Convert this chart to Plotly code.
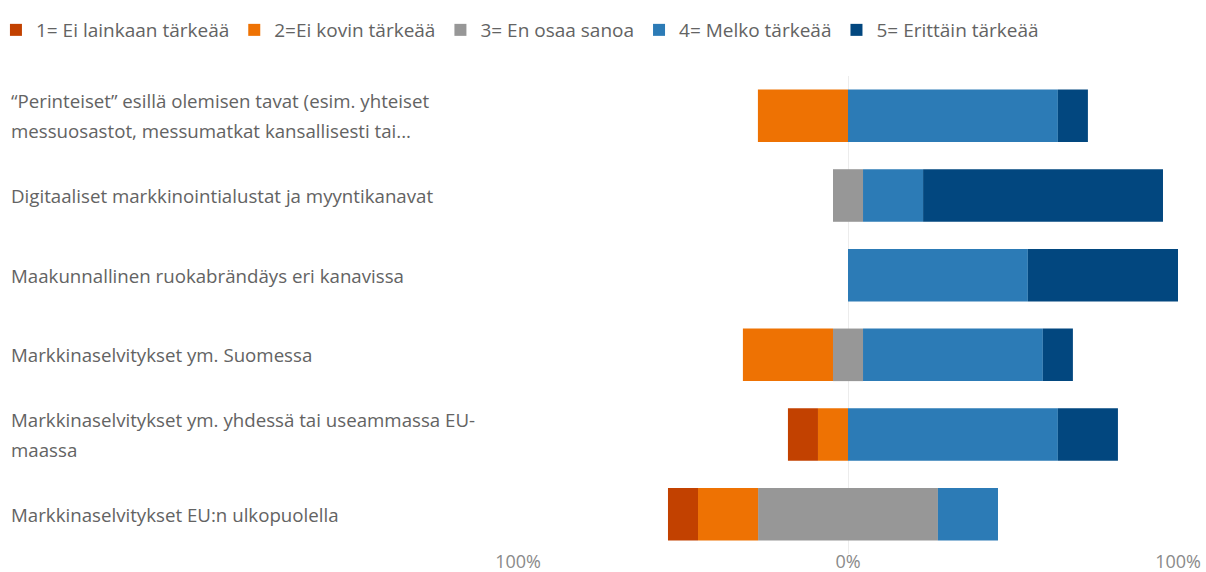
import plotly.graph_objects as go

categories = [
    "Perinteiset",
    "Digitaaliset",
    "Maakunnallinen",
    "Suomessa",
    "EU-maassa",
    "EU:n ulkopuolella",
]
label_lines = [
    ["“Perinteiset” esillä olemisen tavat (esim. yhteiset",
     "messuosastot, messumatkat kansallisesti tai..."],
    ["Digitaaliset markkinointialustat ja myyntikanavat"],
    ["Maakunnallinen ruokabrändäys eri kanavissa"],
    ["Markkinaselvitykset ym. Suomessa"],
    ["Markkinaselvitykset ym. yhdessä tai useammassa EU-",
     "maassa"],
    ["Markkinaselvitykset EU:n ulkopuolella"],
]
series_names = [
    "1= Ei lainkaan tärkeää",
    "2=Ei kovin tärkeää",
    "3= En osaa sanoa",
    "4= Melko tärkeää",
    "5= Erittäin tärkeää",
]
ei_lainkaan = [0, 0, 0, 0, 9.1, 9.1]
ei_kovin = [27.3, 0, 0, 27.3, 9.1, 18.2]
en_osaa = [0, 9.1, 0, 9.1, 0, 54.5]
melko = [63.6, 18.2, 54.5, 54.5, 63.6, 18.2]
erittain = [9.1, 72.7, 45.5, 9.1, 18.2, 0]

colors = ["#c24100", "#ee7203", "#979797", "#2c7bb6", "#02477f"]

fig = go.Figure()
# neutral split around zero
fig.add_trace(go.Bar(y=categories, x=[-v / 2 for v in en_osaa], orientation="h",
                     marker=dict(color=colors[2], line=dict(width=0)),
                     name=series_names[2], legendgroup="3", showlegend=False))
fig.add_trace(go.Bar(y=categories, x=[v / 2 for v in en_osaa], orientation="h",
                     marker=dict(color=colors[2], line=dict(width=0)),
                     name=series_names[2], legendgroup="3", legendrank=3))
fig.add_trace(go.Bar(y=categories, x=[-v for v in ei_kovin], orientation="h",
                     marker=dict(color=colors[1], line=dict(width=0)),
                     name=series_names[1], legendrank=2))
fig.add_trace(go.Bar(y=categories, x=[-v for v in ei_lainkaan], orientation="h",
                     marker=dict(color=colors[0], line=dict(width=0)),
                     name=series_names[0], legendrank=1))
fig.add_trace(go.Bar(y=categories, x=melko, orientation="h",
                     marker=dict(color=colors[3], line=dict(width=0)),
                     name=series_names[3], legendrank=4))
fig.add_trace(go.Bar(y=categories, x=erittain, orientation="h",
                     marker=dict(color=colors[4], line=dict(width=0)),
                     name=series_names[4], legendrank=5))

font_family = "Open Sans, Noto Sans, sans-serif"
text_color = "#636363"

annotations = []
for cat, lines in zip(categories, label_lines):
    n = len(lines)
    for i, line in enumerate(lines):
        shift = (n - 1) * 15 - i * 30
        annotations.append(dict(
            xref="paper", yref="y", x=-0.7712, y=cat, text=line,
            xanchor="left", yanchor="middle", showarrow=False, yshift=shift,
            font=dict(family=font_family, size=18.7, color=text_color),
        ))

fig.update_layout(
    width=1206, height=572,
    barmode="relative", bargap=0.34,
    margin=dict(l=518, r=28, t=76, b=18, autoexpand=False),
    plot_bgcolor="white", paper_bgcolor="white",
    font=dict(family=font_family, size=18, color=text_color),
    xaxis=dict(range=[-100, 100], tickvals=[-100, 0, 100],
               ticktext=["100%", "0%", "100%"], showgrid=True,
               gridcolor="#ececec", gridwidth=1, zeroline=False,
               showline=False, ticks="", automargin=False,
               ticklabelstandoff=-5,
               tickfont=dict(size=18, color="#8a8a8a")),
    yaxis=dict(categoryorder="array", categoryarray=categories,
               autorange="reversed", showticklabels=False, showgrid=False,
               zeroline=False, automargin=False),
    legend=dict(orientation="h", xref="paper", yref="paper",
                x=-0.791, y=1.0962, xanchor="left", yanchor="middle",
                font=dict(size=19, color=text_color), traceorder="normal",
                itemwidth=30),
    annotations=annotations,
    showlegend=True,
)

fig.write_html("out.html", config={"displayModeBar": False},
               post_script="document.body.style.margin='0px';")
